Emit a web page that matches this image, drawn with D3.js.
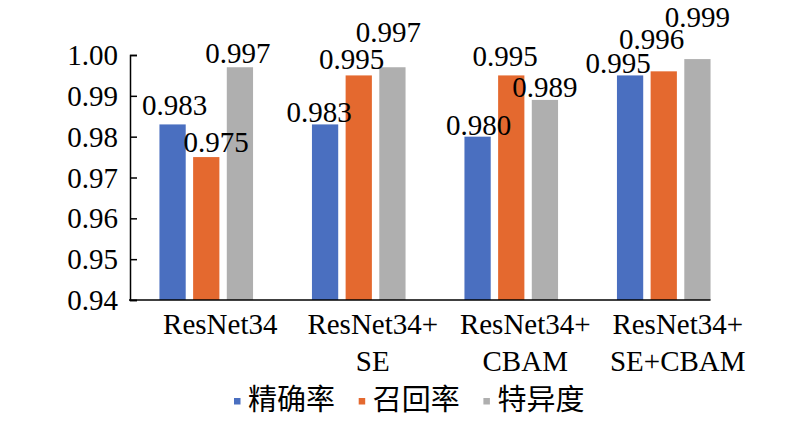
<!doctype html>
<html>

<head>
    <meta charset="utf-8">
    <style>
        body { margin: 0; background: #fff; }
        text { font-family: "Liberation Serif", "Times New Roman", serif; fill: #000; }
        .cjk { font-family: "Noto Sans CJK SC", sans-serif; }
    </style>
    <script src="https://d3js.org/d3.v7.min.js"></script>
</head>

<body>
    <svg width="800" height="422"></svg>
    <script>
        // data
        var categories = [["ResNet34"], ["ResNet34+", "SE"], ["ResNet34+", "CBAM"], ["ResNet34+", "SE+CBAM"]];
        var seriesNames = ["精确率", "召回率", "特异度"];
        var precision = [0.983, 0.983, 0.980, 0.995];
        var recall = [0.975, 0.995, 0.995, 0.996];
        var specificity = [0.997, 0.997, 0.989, 0.999];
        var yTicks = [0.94, 0.95, 0.96, 0.97, 0.98, 0.99, 1.00];

        var colors = ["#4a6fc0", "#e4692f", "#afafaf"];
        // manual label nudges (dx, dy from bar centre / top), like the hand-placed labels in the original
        var labelNudge = [
            [[2, -9], [10, -5], [-2, -4]],
            [[-6, -2], [-7, -6], [-4, -25]],
            [[1, -2], [-6, -9], [0, -3]],
            [[-12, -2], [-12, -22], [0, -32]]
        ];

        var values = [precision, recall, specificity];
        var rows = categories.map(function (c, i) {
            return { idx: i, lines: c, vals: values.map(function (s) { return s[i]; }) };
        });

        var svg = d3.select("svg");
        var plotL = 130, plotR = 740, plotT = 55, plotB = 300;

        var x0 = d3.scaleBand().domain(d3.range(categories.length)).range([plotL, plotR]);
        var groupW = 93.6;
        var inset = (x0.bandwidth() - groupW) / 2;
        var x1 = d3.scaleBand().domain(d3.range(seriesNames.length)).range([0, groupW]).paddingInner(0.22);
        var y = d3.scaleLinear().domain([0.94, 1.00]).range([plotB, plotT]);

        // y axis
        var yAxis = svg.append("g")
            .attr("transform", "translate(" + plotL + ",0)")
            .call(d3.axisRight(y).tickValues(yTicks).tickFormat(d3.format(".2f")).tickSize(7));
        yAxis.select(".domain").attr("stroke", "#000").attr("stroke-width", 1.5);
        yAxis.selectAll(".tick line").attr("stroke", "#000").attr("stroke-width", 1.5);
        yAxis.selectAll(".tick text")
            .attr("x", -12)
            .attr("dy", "0.33em")
            .attr("text-anchor", "end")
            .attr("font-size", "29px")
            .attr("font-family", "Liberation Serif")
            .attr("fill", "#000");

        // bars
        var groups = svg.selectAll(".grp")
            .data(rows)
            .enter().append("g")
            .attr("class", "grp")
            .attr("transform", function (d) { return "translate(" + (x0(d.idx) + inset) + ",0)"; });

        groups.selectAll("rect")
            .data(function (d) { return d.vals.map(function (v, k) { return { k: k, v: v, g: d.idx }; }); })
            .enter().append("rect")
            .attr("x", function (d) { return x1(d.k); })
            .attr("y", function (d) { return y(d.v); })
            .attr("width", x1.bandwidth())
            .attr("height", function (d) { return y(0.94) - y(d.v); })
            .attr("fill", function (d) { return colors[d.k]; });

        groups.selectAll(".val")
            .data(function (d) { return d.vals.map(function (v, k) { return { k: k, v: v, g: d.idx }; }); })
            .enter().append("text")
            .attr("class", "val")
            .attr("x", function (d) { return x1(d.k) + x1.bandwidth() / 2 + labelNudge[d.g][d.k][0]; })
            .attr("y", function (d) { return y(d.v) + labelNudge[d.g][d.k][1]; })
            .attr("text-anchor", "middle")
            .attr("font-size", "29px")
            .text(function (d) { return d3.format(".3f")(d.v); });

        // x axis line
        svg.append("line")
            .attr("x1", plotL - 1)
            .attr("x2", x0(categories.length - 1) + inset + groupW)
            .attr("y1", y(0.94))
            .attr("y2", y(0.94))
            .attr("stroke", "#000")
            .attr("stroke-width", 1.5);

        // category labels
        var cat = svg.selectAll(".cat")
            .data(rows)
            .enter().append("text")
            .attr("class", "cat")
            .attr("text-anchor", "middle")
            .attr("font-size", "29px")
            .attr("x", function (d) { return x0(d.idx) + x0.bandwidth() / 2 + 14; })
            .attr("y", 334);
        cat.selectAll("tspan")
            .data(function (d) { return d.lines; })
            .enter().append("tspan")
            .attr("x", function () { return d3.select(this.parentNode).attr("x"); })
            .attr("dy", function (d, i) { return i === 0 ? 0 : 37; })
            .text(function (d) { return d; });

        // legend
        var legend = svg.append("g").attr("transform", "translate(234,0)");
        var item = legend.selectAll(".leg")
            .data(seriesNames)
            .enter().append("g")
            .attr("class", "leg")
            .attr("transform", function (d, i) { return "translate(" + (i * 124.7) + ",0)"; });
        item.append("rect")
            .attr("x", 0)
            .attr("y", 398)
            .attr("width", 6.5)
            .attr("height", 6.5)
            .attr("fill", function (d, i) { return colors[i]; });
        item.append("text")
            .attr("class", "cjk")
            .attr("x", 14)
            .attr("y", 410)
            .attr("font-size", "29px")
            .text(function (d) { return d; });
    </script>
</body>

</html>
